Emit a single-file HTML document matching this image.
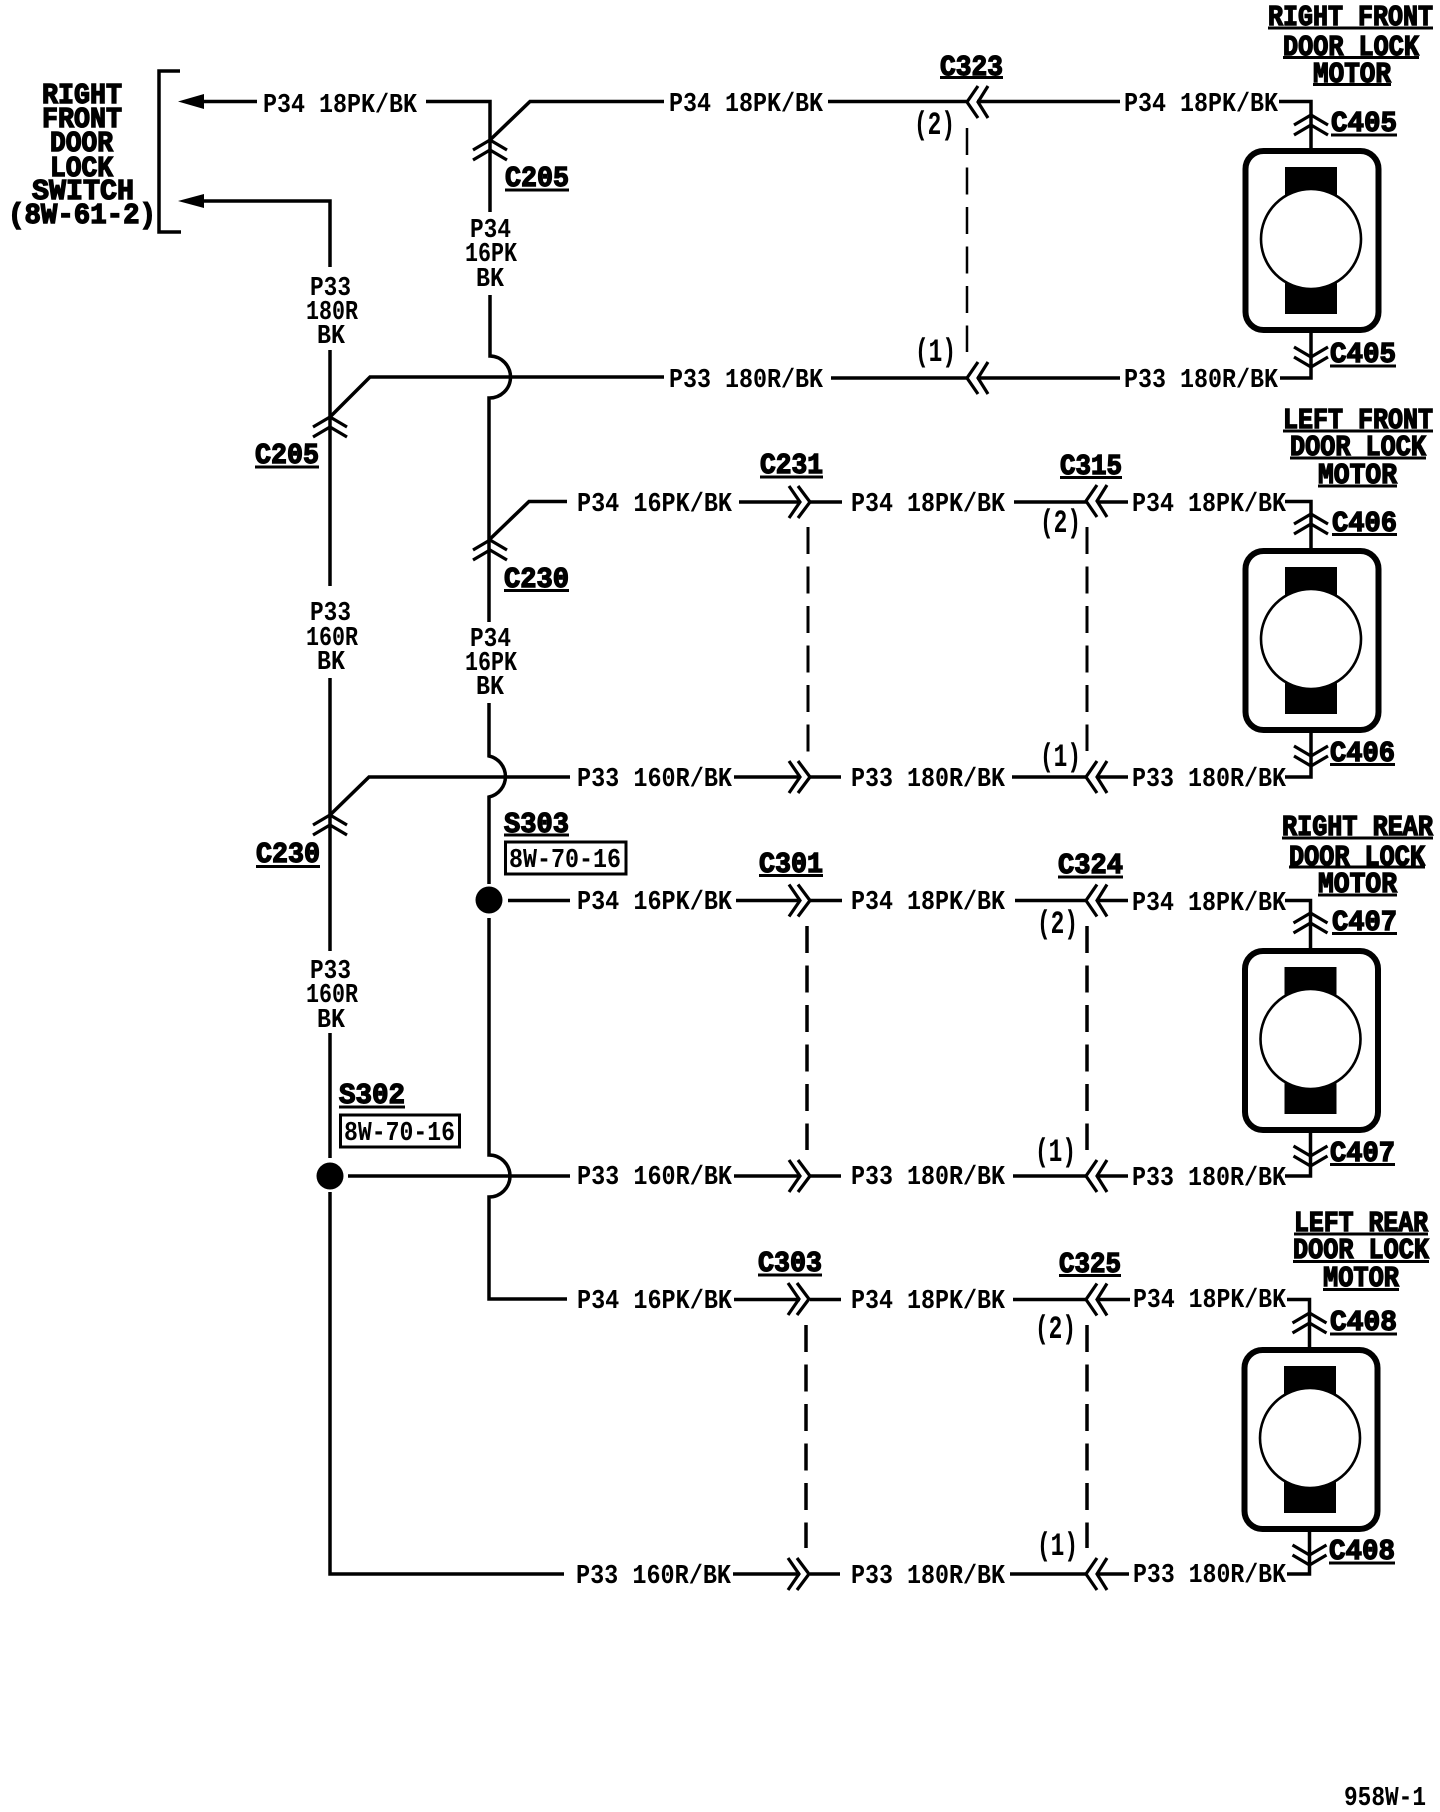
<!DOCTYPE html>
<html><head><meta charset="utf-8"><title>Door lock wiring diagram</title>
<style>
html,body{margin:0;padding:0;background:#fff}
svg{display:block}
text{font-family:"Liberation Mono","DejaVu Sans Mono",monospace;font-weight:bold;fill:#000}
.w{font-size:27px}
.p{font-size:32px}
.t{font-size:28.5px;stroke:#000;stroke-width:1.4px}
.l{fill:none;stroke:#000;stroke-width:3.5}
.d{fill:none;stroke:#000;stroke-width:3;stroke-dasharray:27 12.5}
.c{fill:none;stroke:#000;stroke-width:3.2}
</style></head><body>
<svg xmlns="http://www.w3.org/2000/svg" width="1440" height="1812" viewBox="0 0 1440 1812">
<defs>
<g id="cl" class="c"><path d="M11,-16L0,0L11,16M21,-16L11,0L21,16"/></g>
<g id="cr" class="c"><path d="M-11,-16L0,0L-11,16M-2,-16L10,0L-2,16"/></g>
<g id="cu" class="c"><path d="M-17,10L0,0L17,10M-17,20L0,10L17,20"/></g>
<g id="cd" class="c"><path d="M-17,-10L0,0L17,-10M-17,0L0,10L17,0"/></g>
<g id="m">
<rect x="-65.5" y="-88" width="133" height="179" rx="18" fill="#fff" stroke="#000" stroke-width="6"/>
<rect x="-26" y="-72" width="52" height="147" fill="#000"/>
<circle cx="0" cy="0" r="50" fill="#fff" stroke="#000" stroke-width="2.6"/>
</g>
</defs>

<!-- left switch -->
<path class="l" d="M180,71H159V232H181"/>
<polygon points="178,101.500 204,94 204,109"/>
<polygon points="178,201 204,194 204,208"/>
<text class="t" x="42" y="103" textLength="80" lengthAdjust="spacingAndGlyphs">RIGHT</text>
<text class="t" x="42" y="127" textLength="80" lengthAdjust="spacingAndGlyphs">FRONT</text>
<text class="t" x="50" y="151" textLength="63" lengthAdjust="spacingAndGlyphs">DOOR</text>
<text class="t" x="50" y="176" textLength="63" lengthAdjust="spacingAndGlyphs">LOCK</text>
<text class="t" x="32" y="199" textLength="102" lengthAdjust="spacingAndGlyphs">SWITCH</text>
<text class="t" x="8" y="223" textLength="148" lengthAdjust="spacingAndGlyphs">(8W-61-2)</text>

<!-- trunk wires -->
<path class="l" d="M200,101.500H257"/>
<path class="l" d="M426,101.500H490V150"/>
<path class="l" d="M200,201H330V267"/>
<path class="l" d="M330,350V586"/>
<path class="l" d="M330,417L370,377H664"/>
<path class="l" d="M330,678V951"/>
<path class="l" d="M330,1033V1158"/>
<path class="l" d="M330,1192V1574H564"/>
<path class="l" d="M330,815L369,777H570"/>
<path class="l" d="M490,140L530,101.500H664"/>
<path class="l" d="M490,150V212M490,295V356A21,21 0 0 1 489,398V622"/>
<path class="l" d="M489,540L529,501.500H567"/>
<path class="l" d="M489,703V756A21,21 0 0 1 489,797V884"/>
<path class="l" d="M489,918V1155A21,21 0 0 1 489,1197V1299H567"/>
<path class="l" d="M508,900.500H570"/>
<path class="l" d="M348,1176H570"/>
<circle cx="489" cy="900" r="13.500"/>
<circle cx="330" cy="1176" r="13.500"/>
<use href="#cu" x="330" y="417"/>
<use href="#cu" x="330" y="815"/>
<use href="#cu" x="490" y="140"/>
<use href="#cu" x="490" y="540"/>

<text class="w" x="263" y="112" textLength="154" lengthAdjust="spacingAndGlyphs">P34 18PK/BK</text>
<text class="w" x="310" y="295" textLength="41" lengthAdjust="spacingAndGlyphs">P33</text>
<text class="w" x="306" y="319" textLength="52" lengthAdjust="spacingAndGlyphs">180R</text>
<text class="w" x="317" y="343" textLength="28" lengthAdjust="spacingAndGlyphs">BK</text>
<text class="w" x="470" y="237" textLength="41" lengthAdjust="spacingAndGlyphs">P34</text>
<text class="w" x="465" y="261" textLength="52" lengthAdjust="spacingAndGlyphs">16PK</text>
<text class="w" x="476" y="286" textLength="28" lengthAdjust="spacingAndGlyphs">BK</text>
<text class="w" x="310" y="620" textLength="41" lengthAdjust="spacingAndGlyphs">P33</text>
<text class="w" x="306" y="645" textLength="52" lengthAdjust="spacingAndGlyphs">160R</text>
<text class="w" x="317" y="669" textLength="28" lengthAdjust="spacingAndGlyphs">BK</text>
<text class="w" x="470" y="646" textLength="41" lengthAdjust="spacingAndGlyphs">P34</text>
<text class="w" x="465" y="670" textLength="52" lengthAdjust="spacingAndGlyphs">16PK</text>
<text class="w" x="476" y="694" textLength="28" lengthAdjust="spacingAndGlyphs">BK</text>
<text class="w" x="310" y="978" textLength="41" lengthAdjust="spacingAndGlyphs">P33</text>
<text class="w" x="306" y="1002" textLength="52" lengthAdjust="spacingAndGlyphs">160R</text>
<text class="w" x="317" y="1027" textLength="28" lengthAdjust="spacingAndGlyphs">BK</text>

<text class="t" x="255" y="463" textLength="64" lengthAdjust="spacingAndGlyphs">C205</text><rect x="255" y="465.500" width="64" height="3"/>
<text class="t" x="505" y="186" textLength="64" lengthAdjust="spacingAndGlyphs">C205</text><rect x="505" y="188.500" width="64" height="3"/>
<text class="t" x="504" y="587" textLength="65" lengthAdjust="spacingAndGlyphs">C230</text><rect x="504" y="589" width="65" height="3"/>
<text class="t" x="256" y="862" textLength="64" lengthAdjust="spacingAndGlyphs">C230</text><rect x="256" y="865" width="64" height="3"/>

<text class="t" x="504" y="832" textLength="65" lengthAdjust="spacingAndGlyphs">S303</text><rect x="504" y="833.500" width="65" height="3"/>
<rect x="505.500" y="842" width="120.500" height="32" fill="none" stroke="#000" stroke-width="3"/>
<text class="w" x="509" y="867" textLength="112" lengthAdjust="spacingAndGlyphs">8W-70-16</text>
<text class="t" x="339" y="1103" textLength="66" lengthAdjust="spacingAndGlyphs">S302</text><rect x="339" y="1105.500" width="66" height="3"/>
<rect x="340.500" y="1115" width="119" height="32" fill="none" stroke="#000" stroke-width="3"/>
<text class="w" x="344" y="1140" textLength="111" lengthAdjust="spacingAndGlyphs">8W-70-16</text>

<!-- Row 1 -->
<text class="t" x="1268" y="25" textLength="165" lengthAdjust="spacingAndGlyphs">RIGHT FRONT</text><rect x="1268" y="26.500" width="165" height="3"/>
<text class="t" x="1283" y="55" textLength="136" lengthAdjust="spacingAndGlyphs">DOOR LOCK</text><rect x="1283" y="56" width="136" height="3"/>
<text class="t" x="1313" y="82" textLength="78" lengthAdjust="spacingAndGlyphs">MOTOR</text><rect x="1313" y="83" width="78" height="3"/>
<text class="w" x="669" y="111" textLength="154" lengthAdjust="spacingAndGlyphs">P34 18PK/BK</text>
<text class="w" x="669" y="387" textLength="154" lengthAdjust="spacingAndGlyphs">P33 180R/BK</text>
<text class="w" x="1124" y="111" textLength="154" lengthAdjust="spacingAndGlyphs">P34 18PK/BK</text>
<text class="w" x="1124" y="387" textLength="154" lengthAdjust="spacingAndGlyphs">P33 180R/BK</text>
<text class="t" x="940" y="75" textLength="63" lengthAdjust="spacingAndGlyphs">C323</text><rect x="940" y="76" width="63" height="3"/>
<path class="l" d="M828,101.500H967M977,101.500H1120M1279,101.500H1311V315"/>
<path class="l" d="M831,378H967M977,378H1120M1280,378H1311V315"/>
<use href="#cl" x="967" y="102"/><use href="#cl" x="967" y="378"/>
<path class="d" style="stroke-width:2.5" d="M967,128V352"/>
<text class="p" x="914" y="134" textLength="41" lengthAdjust="spacingAndGlyphs">(2)</text>
<text class="p" x="915" y="361" textLength="41" lengthAdjust="spacingAndGlyphs">(1)</text>
<use href="#m" x="1311" y="239"/>
<use href="#cu" x="1311" y="115"/><use href="#cd" x="1311" y="357"/>
<text class="t" x="1331" y="131" textLength="66" lengthAdjust="spacingAndGlyphs">C405</text><rect x="1331" y="133.500" width="66" height="3"/>
<text class="t" x="1330" y="362" textLength="66" lengthAdjust="spacingAndGlyphs">C405</text><rect x="1330" y="364.500" width="66" height="3"/>

<!-- Row 2 -->
<text class="t" x="1283" y="428" textLength="150" lengthAdjust="spacingAndGlyphs">LEFT FRONT</text><rect x="1283" y="429.500" width="150" height="3"/>
<text class="t" x="1290" y="455" textLength="136" lengthAdjust="spacingAndGlyphs">DOOR LOCK</text><rect x="1290" y="456.500" width="136" height="3"/>
<text class="t" x="1318" y="483" textLength="79" lengthAdjust="spacingAndGlyphs">MOTOR</text><rect x="1318" y="484.500" width="79" height="3"/>
<text class="t" x="760" y="473" textLength="63" lengthAdjust="spacingAndGlyphs">C231</text><rect x="760" y="475.500" width="63" height="3"/>
<text class="t" x="1060" y="474" textLength="62" lengthAdjust="spacingAndGlyphs">C315</text><rect x="1060" y="476" width="62" height="3"/>
<text class="w" x="577" y="511" textLength="155" lengthAdjust="spacingAndGlyphs">P34 16PK/BK</text>
<text class="w" x="851" y="511" textLength="154" lengthAdjust="spacingAndGlyphs">P34 18PK/BK</text>
<text class="w" x="1132" y="511" textLength="154" lengthAdjust="spacingAndGlyphs">P34 18PK/BK</text>
<text class="w" x="577" y="786" textLength="155" lengthAdjust="spacingAndGlyphs">P33 160R/BK</text>
<text class="w" x="851" y="786" textLength="154" lengthAdjust="spacingAndGlyphs">P33 180R/BK</text>
<text class="w" x="1132" y="786" textLength="154" lengthAdjust="spacingAndGlyphs">P33 180R/BK</text>
<path class="l" d="M739,502H800M810,502H842M1014,502H1087M1097,502H1128M1285,501.500H1311V715"/>
<path class="l" d="M734,777H800M810,777H841M1012,777H1087M1097,777H1128M1285,777H1311V715"/>
<use href="#cr" x="800" y="502"/><use href="#cr" x="800" y="777"/>
<use href="#cl" x="1086" y="501"/><use href="#cl" x="1086" y="777"/>
<path class="d" d="M808,527V752"/>
<path class="d" d="M1087,527V751"/>
<text class="p" x="1040" y="532" textLength="41" lengthAdjust="spacingAndGlyphs">(2)</text>
<text class="p" x="1040" y="766" textLength="41" lengthAdjust="spacingAndGlyphs">(1)</text>
<use href="#m" x="1311" y="639"/>
<use href="#cu" x="1311" y="514"/><use href="#cd" x="1311" y="756"/>
<text class="t" x="1332" y="531" textLength="65" lengthAdjust="spacingAndGlyphs">C406</text><rect x="1332" y="533" width="65" height="3"/>
<text class="t" x="1330" y="761" textLength="65" lengthAdjust="spacingAndGlyphs">C406</text><rect x="1330" y="763" width="65" height="3"/>

<!-- Row 3 -->
<text class="t" x="1282" y="835" textLength="151" lengthAdjust="spacingAndGlyphs">RIGHT REAR</text><rect x="1282" y="836.500" width="151" height="3"/>
<text class="t" x="1289" y="865" textLength="136" lengthAdjust="spacingAndGlyphs">DOOR LOCK</text><rect x="1289" y="865.500" width="136" height="3"/>
<text class="t" x="1318" y="892" textLength="79" lengthAdjust="spacingAndGlyphs">MOTOR</text><rect x="1318" y="893.500" width="79" height="3"/>
<text class="t" x="759" y="872" textLength="64" lengthAdjust="spacingAndGlyphs">C301</text><rect x="759" y="874" width="64" height="3"/>
<text class="t" x="1058" y="873" textLength="65" lengthAdjust="spacingAndGlyphs">C324</text><rect x="1058" y="875.500" width="65" height="3"/>
<text class="w" x="577" y="909" textLength="155" lengthAdjust="spacingAndGlyphs">P34 16PK/BK</text>
<text class="w" x="851" y="909" textLength="154" lengthAdjust="spacingAndGlyphs">P34 18PK/BK</text>
<text class="w" x="1132" y="910" textLength="154" lengthAdjust="spacingAndGlyphs">P34 18PK/BK</text>
<text class="w" x="577" y="1184" textLength="155" lengthAdjust="spacingAndGlyphs">P33 160R/BK</text>
<text class="w" x="851" y="1184" textLength="154" lengthAdjust="spacingAndGlyphs">P33 180R/BK</text>
<text class="w" x="1132" y="1185" textLength="154" lengthAdjust="spacingAndGlyphs">P33 180R/BK</text>
<path class="l" d="M736,900.500H800M810,900.500H842M1015,900.500H1087M1097,900.500H1128M1285,900.500H1310.500V1115"/>
<path class="l" d="M734,1176H800M810,1176H841M1013,1176H1087M1097,1176H1128M1285,1176H1310.500V1115"/>
<use href="#cr" x="800" y="900.500"/><use href="#cr" x="800" y="1176"/>
<use href="#cl" x="1086" y="900.500"/><use href="#cl" x="1086" y="1176"/>
<path class="d" style="stroke-width:3.5" d="M807,926V1150"/>
<path class="d" style="stroke-width:3.5" d="M1087,926V1150"/>
<text class="p" x="1037" y="933" textLength="41" lengthAdjust="spacingAndGlyphs">(2)</text>
<text class="p" x="1035" y="1161" textLength="41" lengthAdjust="spacingAndGlyphs">(1)</text>
<use href="#m" x="1310.500" y="1039"/>
<use href="#cu" x="1310.500" y="913"/><use href="#cd" x="1310.500" y="1156"/>
<text class="t" x="1332" y="930" textLength="65" lengthAdjust="spacingAndGlyphs">C407</text><rect x="1332" y="932" width="65" height="3"/>
<text class="t" x="1330" y="1161" textLength="65" lengthAdjust="spacingAndGlyphs">C407</text><rect x="1330" y="1163" width="65" height="3"/>

<!-- Row 4 -->
<text class="t" x="1294" y="1231" textLength="134" lengthAdjust="spacingAndGlyphs">LEFT REAR</text><rect x="1294" y="1232.500" width="134" height="3"/>
<text class="t" x="1293" y="1258" textLength="136" lengthAdjust="spacingAndGlyphs">DOOR LOCK</text><rect x="1293" y="1260" width="136" height="3"/>
<text class="t" x="1323" y="1286" textLength="76" lengthAdjust="spacingAndGlyphs">MOTOR</text><rect x="1323" y="1288" width="76" height="3"/>
<text class="t" x="758" y="1271" textLength="64" lengthAdjust="spacingAndGlyphs">C303</text><rect x="758" y="1273.500" width="64" height="3"/>
<text class="t" x="1059" y="1272" textLength="62" lengthAdjust="spacingAndGlyphs">C325</text><rect x="1059" y="1274" width="62" height="3"/>
<text class="w" x="577" y="1308" textLength="155" lengthAdjust="spacingAndGlyphs">P34 16PK/BK</text>
<text class="w" x="851" y="1308" textLength="154" lengthAdjust="spacingAndGlyphs">P34 18PK/BK</text>
<text class="w" x="1133" y="1307" textLength="153" lengthAdjust="spacingAndGlyphs">P34 18PK/BK</text>
<text class="w" x="576" y="1583" textLength="155" lengthAdjust="spacingAndGlyphs">P33 160R/BK</text>
<text class="w" x="851" y="1583" textLength="154" lengthAdjust="spacingAndGlyphs">P33 180R/BK</text>
<text class="w" x="1133" y="1582" textLength="153" lengthAdjust="spacingAndGlyphs">P33 180R/BK</text>
<path class="l" d="M734,1299.500H800M810,1299.500H841M1013,1299.500H1087M1097,1299.500H1130M1287,1299.500H1309.500V1514"/>
<path class="l" d="M733,1574H800M810,1574H840M1010,1574H1087M1097,1574H1129M1287,1574H1309.500V1514"/>
<use href="#cr" x="799" y="1299"/><use href="#cr" x="799" y="1574"/>
<use href="#cl" x="1086" y="1299.500"/><use href="#cl" x="1086" y="1574"/>
<path class="d" style="stroke-width:3.5" d="M806,1325V1548"/>
<path class="d" style="stroke-width:3.5" d="M1087,1325V1548"/>
<text class="p" x="1035" y="1338" textLength="41" lengthAdjust="spacingAndGlyphs">(2)</text>
<text class="p" x="1037" y="1555" textLength="41" lengthAdjust="spacingAndGlyphs">(1)</text>
<use href="#m" x="1310" y="1438"/>
<use href="#cu" x="1309.500" y="1313"/><use href="#cd" x="1309.500" y="1555"/>
<text class="t" x="1330" y="1330" textLength="67" lengthAdjust="spacingAndGlyphs">C408</text><rect x="1330" y="1332.500" width="67" height="3"/>
<text class="t" x="1329" y="1559" textLength="66" lengthAdjust="spacingAndGlyphs">C408</text><rect x="1329" y="1561.500" width="66" height="3"/>

<text class="w" x="1344" y="1805" textLength="82" lengthAdjust="spacingAndGlyphs">958W-1</text>
</svg>
</body></html>
